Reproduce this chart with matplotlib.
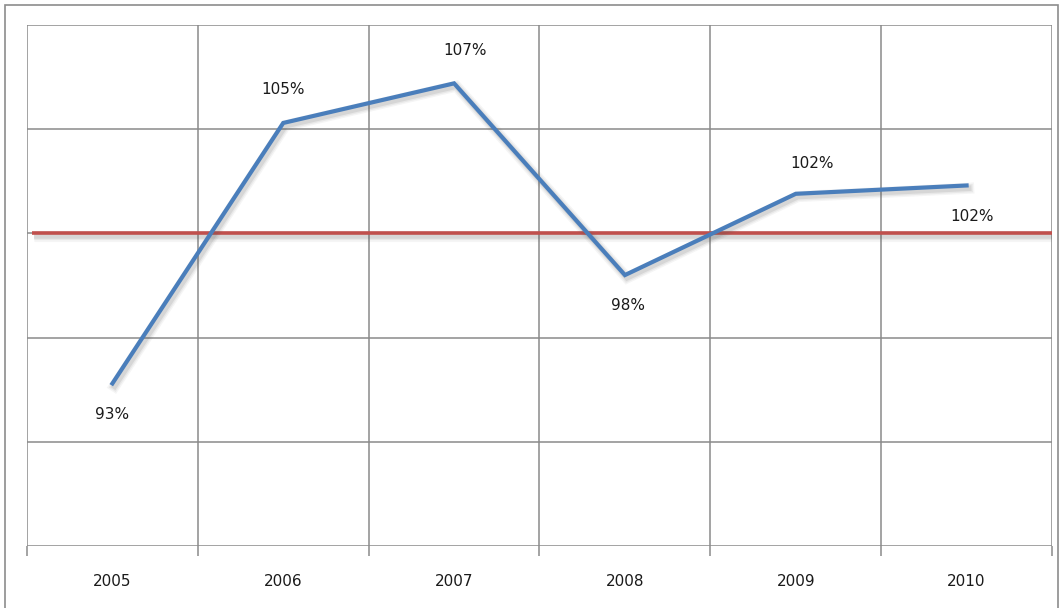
import matplotlib.pyplot as plt
import matplotlib.patheffects as pe
from matplotlib.patches import Rectangle
import numpy as np

years = ['2005', '2006', '2007', '2008', '2009', '2010']
ratio = [0.928, 1.053, 1.072, 0.980, 1.019, 1.023]
labels = ['93%', '105%', '107%', '98%', '102%', '102%']
target = 1.00

# label offsets in points (dx, dy)
offsets = [(0, -22), (0, 24), (8, 24), (2, -22), (12, 22), (4, -22)]

fig = plt.figure(figsize=(10.63, 6.08), dpi=100)
fig.patches.append(Rectangle((5 / 1063, -0.05), 1053 / 1063, 1.05 - 5 / 608,
                             transform=fig.transFigure, fill=False,
                             edgecolor='#8c8c8c', linewidth=1.2))

ax = fig.add_axes([27 / 1063, 62 / 608, 1025 / 1063, 521 / 608])
x = np.arange(len(years))

ax.set_xlim(-0.5, len(years) - 0.5)
ax.set_ylim(0.85, 1.10)
ax.set_yticks(np.arange(0.85, 1.101, 0.05))
ax.set_yticklabels([])
ax.tick_params(axis='y', length=0)
ax.grid(axis='y', color='#8a8a8a', linewidth=1.1)

ax.set_xticks(x)
ax.set_xticklabels(years, fontsize=11, color='#1a1a1a')
ax.tick_params(axis='x', which='major', length=0, pad=20)
ax.set_xticks(np.arange(-0.5, len(years), 1), minor=True)
ax.tick_params(axis='x', which='minor', length=7, color='#8a8a8a', width=1.1)
ax.grid(axis='x', which='minor', color='#8a8a8a', linewidth=1.1)
for s in ax.spines.values():
    s.set_visible(False)
ax.set_axisbelow(True)

# soft drop shadow, built from a few wide translucent strokes
shadow = [pe.SimpleLineShadow(offset=(1.5, -2), shadow_color='#555555', alpha=a, linewidth=w)
          for w, a in [(8, 0.06), (6, 0.08), (4, 0.12)]] + [pe.Normal()]

ax.plot([-0.47, len(years) - 0.5], [target, target], color='#c0504d', linewidth=2.6,
        solid_capstyle='butt', path_effects=shadow, zorder=3)
ax.plot(x, ratio, color='#4a7ebb', linewidth=3, solid_joinstyle='miter',
        path_effects=shadow, zorder=4)

for xi, yi, lab, (dx, dy) in zip(x, ratio, labels, offsets):
    ax.annotate(lab, (xi, yi), xytext=(dx, dy), textcoords='offset points',
                ha='center', va='center', fontsize=11, color='#1a1a1a')

fig.savefig('out.png', dpi=100)
